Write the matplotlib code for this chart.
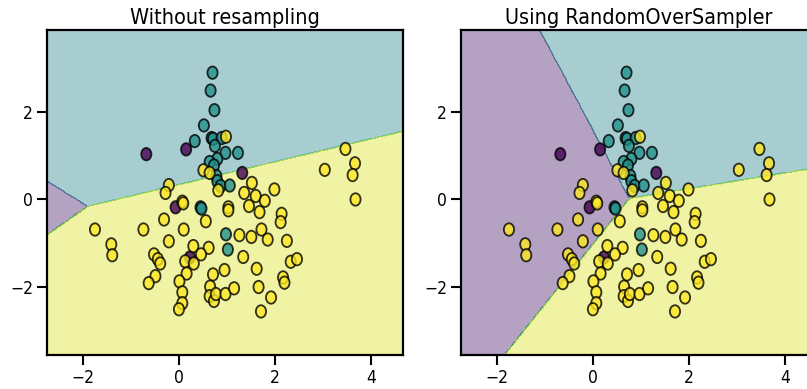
# decision regions: without resampling vs RandomOverSampler
import numpy as np
import matplotlib
matplotlib.use("Agg")
import matplotlib.pyplot as plt
from matplotlib.path import Path

plt.rcParams['font.family'] = ['DejaVu Sans']
plt.rcParams['font.stretch'] = 'condensed'

# --- data ---
class0_x = [-0.68, 0.15, 1.32, -0.07, 0.23]
class0_y = [1.04, 1.15, 0.61, -0.18, -1.33]

class1_x = [0.70, 0.66, 0.74, 0.52, 0.33, 0.68, 0.71, 0.89, 0.75, 0.97, 1.23,
            0.80, 0.64, 0.73, 0.78, 0.80, 0.87, 1.06, 0.45, 0.47, 0.98, 1.02]
class1_y = [2.91, 2.50, 2.05, 1.70, 1.34, 1.41, 1.39, 1.41, 1.23, 1.07, 1.07,
            0.93, 0.86, 0.78, 0.54, 0.42, 0.31, 0.32, -0.18, -0.21, -0.80, -1.15]

class2_x = [3.47, 3.67, 3.62, 3.68, 3.04,
            0.98, 0.51, 0.64, -0.21, -0.28, 0.07, 0.09, 0.82,
            1.52, 1.36, 1.60, 1.99, 1.79, 1.46, 1.03, 1.03, 1.68, 2.14, 2.12,
            -0.31, 0.56, 0.10, -0.74, -1.75, -1.41, -1.39, -0.21,
            1.26, 1.51, 1.72, 1.85, 2.25,
            0.30, 0.62, 0.46, -0.52, -0.44, -0.39, 0.13, 0.31, 1.34, 2.33, 2.46,
            -0.49, -0.63, 0.16, 0.01, 0.07, 0.07, 0.00,
            0.65, 0.64, 0.73, 0.77, 0.71, 0.95, 0.97, 1.15,
            1.62, 1.66, 1.71, 1.92, 2.17, 2.20]
class2_y = [1.16, 0.83, 0.56, 0.00, 0.68,
            1.44, 0.67, 0.61, 0.33, 0.15, -0.05, -0.09, 0.21,
            0.38, 0.15, 0.08, 0.23, -0.03, -0.15, -0.18, -0.25, -0.29, -0.33, -0.52,
            -0.46, -0.50, -0.69, -0.69, -0.69, -1.03, -1.28, -0.96,
            -0.82, -0.86, -0.69, -0.92, -0.95,
            -1.07, -1.11, -1.26, -1.26, -1.37, -1.47, -1.42, -1.47, -1.32, -1.43, -1.37,
            -1.76, -1.92, -1.70, -1.88, -2.13, -2.38, -2.52,
            -2.00, -2.22, -2.33, -2.17, -1.72, -1.62, -2.17, -2.04,
            -1.59, -2.01, -2.57, -2.25, -1.79, -1.91]

titles = ["Without resampling", "Using RandomOverSampler"]

# linear class scores (one row per class: wx, wy, bias) for each panel
coef_plain = [[-0.502, 0.651, -0.850],
              [-0.262, 1.000, -0.338],
              [0.0, 0.0, 0.0]]
coef_ros = [[-0.900, 0.6525, 0.671],
            [-0.181, 1.000, 0.118],
            [0.0, 0.0, 0.0]]

X = np.column_stack([class0_x + class1_x + class2_x,
                     class0_y + class1_y + class2_y])
labels = np.array([0] * len(class0_x) + [1] * len(class1_x) + [2] * len(class2_x))

# the original image is squeezed horizontally, so markers look like ovals
circ = Path.unit_circle()
oval = Path(circ.vertices * [0.82, 1.0], circ.codes)

fig = plt.figure(figsize=(8.07, 3.89), dpi=100)
ax1 = fig.add_axes([47 / 807, 34 / 389, 356 / 807, 325 / 389])
ax2 = fig.add_axes([461 / 807, 34 / 389, 356 / 807, 325 / 389])

x_min, x_max = X[:, 0].min() - 1, X[:, 0].max() + 1
y_min, y_max = X[:, 1].min() - 1, X[:, 1].max() + 1
xx, yy = np.meshgrid(np.arange(x_min, x_max, 0.02), np.arange(y_min, y_max, 0.02))

for ax, coef, title in zip([ax1, ax2], [coef_plain, coef_ros], titles):
    c = np.array(coef)
    scores = [c[k, 0] * xx + c[k, 1] * yy + c[k, 2] for k in range(3)]
    Z = np.argmax(np.stack(scores), axis=0)
    ax.contourf(xx, yy, Z, alpha=0.4)
    ax.scatter(X[:, 0], X[:, 1], c=labels, cmap='viridis', vmin=0, vmax=2,
               alpha=0.8, edgecolor='k', marker=oval, s=80, linewidths=1.3)
    ax.set_title(title, fontsize=15.5, pad=4)
    ax.set_xticks([-2, 0, 2, 4])
    ax.set_yticks([-2, 0, 2])
    ax.tick_params(labelsize=12.5, length=7, width=1.5, pad=3)
    for sp in ax.spines.values():
        sp.set_linewidth(1.6)

fig.savefig("out.png", dpi=100)
